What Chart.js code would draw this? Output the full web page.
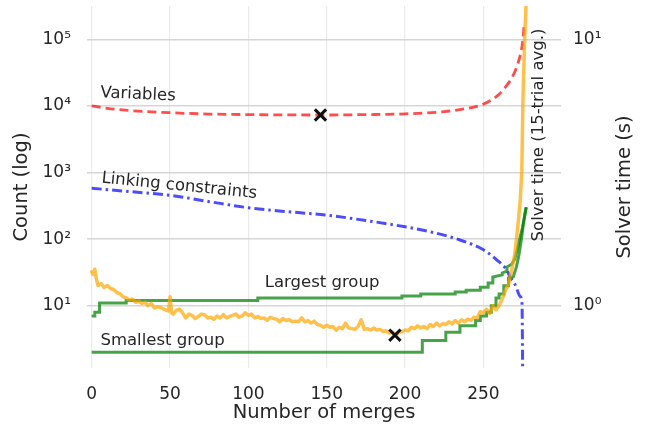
<!DOCTYPE html>
<html>
<head>
<meta charset="utf-8">
<script src="https://cdn.jsdelivr.net/npm/chart.js@4.4.0/dist/chart.umd.min.js"></script>
<style>
  body { margin: 0; background: #fff; }
  canvas { display: block; }
</style>
</head>
<body>
<canvas id="myChart" width="652" height="429"></canvas>
<script>
// tick labels
var xTicks = [0, 50, 100, 150, 200, 250];
var countTicks = [10, 100, 1000, 10000, 100000];
var timeTicks = [1, 10];

// Variables (count)
var varX = [0, 10, 25, 50, 75, 100, 146, 175, 200, 225, 240, 248, 255, 260, 265, 268, 271, 273, 274.5, 275.5, 276];
var varY = [10000, 9200, 8500, 7900, 7550, 7400, 7300, 7400, 7600, 8200, 9200, 10200, 12200, 15000, 20500, 26000, 37000, 52000, 75000, 120000, 176000];

// Linking constraints (count)
var linkX = [0, 25, 50, 75, 100, 125, 149, 175, 200, 216, 235, 250, 258.6, 265, 267, 270.3, 273.5, 274.6, 275.2];
var linkY = [580, 515, 455, 365, 296, 258, 230, 190, 153, 129, 97, 69, 48.5, 34, 27, 20.5, 13.7, 10.9, 0.3];

// Largest group size (count), steps written out
var largeX = [0, 2, 2, 5, 5, 22, 22, 106, 106, 198, 198, 210, 210, 232, 232, 239, 239, 248, 248, 253, 253, 255.5,
  256, 262, 262, 265, 265, 268, 270, 272, 273.5, 275, 276, 277.3];
var largeY = [7, 7, 8, 8, 11, 11, 12, 12, 13, 13, 14, 14, 15, 15, 16, 16, 17, 17, 19, 19, 22, 22,
  27, 29, 31, 33, 38, 42, 50, 77, 110, 150, 200, 300];

// Smallest group size (count), steps written out
var smallX = [0, 211, 211, 226, 226, 235, 235, 245, 245, 248, 248, 252, 252, 255, 255, 258, 258, 260, 260, 263, 263, 266,
  266, 269, 271, 272.5, 273.5, 274.5, 275.5, 276.5, 277.3];
var smallY = [2, 2, 3, 3, 4, 4, 5, 5, 6, 6, 7, 7, 8, 8, 10, 10, 13, 13, 15, 15, 20, 20,
  26, 27, 38, 55, 77, 110, 175, 240, 300];

// Solver time, 15-trial avg. (seconds)
var solverX = [0, 1, 2, 3, 4, 6, 8, 10, 12, 14,
  16, 18, 20, 22, 24, 26, 28, 30, 32, 34,
  36, 38, 40, 42, 44, 46, 48, 49, 50, 51,
  52, 54, 56, 58, 60, 62, 64, 66, 68, 70,
  72, 74, 76, 78, 80, 82, 84, 86, 88, 90,
  92, 94, 96, 98, 100, 102, 104, 106, 108, 110,
  112, 114, 116, 118, 120, 122, 124, 126, 128, 130,
  132, 134, 136, 138, 140, 142, 144, 146, 148, 150,
  152, 154, 156, 158, 160, 162, 164, 166, 168, 170,
  172, 174, 176, 178, 180, 182, 184, 186, 188, 190,
  192, 194, 196, 198, 200, 202, 204, 206, 208, 210,
  212, 214, 216, 218, 220, 222, 224, 226, 228, 230,
  232, 234, 236, 238, 240, 242, 244, 246, 248, 250,
  252, 254, 256, 258, 260, 262, 264, 266, 267, 268,
  270, 272, 273.5, 274.5, 275.2, 276.3, 277.3];
var solverY = [1.34, 1.31, 1.37, 1.26, 1.19, 1.21, 1.17, 1.19, 1.16, 1.15,
  1.12, 1.11, 1.08, 1.07, 1.05, 1.06, 1.03, 1.04, 1.02, 1.03,
  1.0, 1.02, 0.98, 0.99, 0.985, 0.97, 0.96, 0.955, 1.08, 0.94,
  0.93, 0.96, 0.97, 0.94, 0.9, 0.93, 0.92, 0.895, 0.91, 0.93,
  0.925, 0.9, 0.905, 0.89, 0.915, 0.9, 0.925, 0.9, 0.91, 0.92,
  0.93, 0.905, 0.915, 0.94, 0.92, 0.93, 0.9, 0.91, 0.895, 0.9,
  0.88, 0.905, 0.895, 0.89, 0.87, 0.895, 0.88, 0.885, 0.87, 0.875,
  0.87, 0.9, 0.87, 0.88, 0.86, 0.875, 0.85, 0.845, 0.83, 0.845,
  0.83, 0.835, 0.81, 0.83, 0.82, 0.86, 0.825, 0.82, 0.815, 0.835,
  0.885, 0.815, 0.82, 0.81, 0.825, 0.81, 0.815, 0.8, 0.805, 0.79,
  0.795, 0.775, 0.795, 0.8, 0.81, 0.805, 0.83, 0.82, 0.84, 0.825,
  0.835, 0.82, 0.85, 0.835, 0.86, 0.84, 0.855, 0.85, 0.87, 0.855,
  0.88, 0.86, 0.885, 0.87, 0.89, 0.88, 0.905, 0.9, 0.95, 0.94,
  0.97, 0.935, 1.0, 0.965, 1.0, 1.06, 1.14, 1.2, 1.28, 1.36,
  1.56, 2.0, 2.5, 3.2, 5.9, 10, 14];

// minima marked with an x
var varMin = {x: 146, y: 7300};
var solverMin = {x: 193.5, y: 0.775};

function pts(xs, ys) {
  return xs.map(function(x, i) { return {x: x, y: ys[i]}; });
}

var sup = {'0': '\u2070', '1': '\u00b9', '2': '\u00b2', '3': '\u00b3', '4': '\u2074', '5': '\u2075'};
function pow10Label(v) {
  var e = Math.round(Math.log10(v));
  return '10' + sup[String(e)];
}

var FONT = "'DejaVu Sans', sans-serif";
var TEXT = '#262626';

// text notes next to the lines
var notes = [
  {text: 'Variables', x: 29.6, y: 14800, axis: 'y', angle: 2.5},
  {text: 'Linking constraints', x: 55.9, y: 627, axis: 'y', angle: 5.7},
  {text: 'Largest group', x: 147, y: 21.9, axis: 'y', angle: 0},
  {text: 'Smallest group', x: 45.2, y: 2.95, axis: 'y', angle: 0},
  {text: 'Solver time (15-trial avg.)', x: 285, y: 3656, axis: 'y', angle: -90}
];

var notesPlugin = {
  id: 'notes',
  afterDraw: function(chart) {
    var ctx = chart.ctx;
    var xs = chart.scales.x;
    var area = chart.chartArea;
    ctx.save();
    ctx.fillStyle = TEXT;
    ctx.textAlign = 'center';
    ctx.textBaseline = 'middle';
    ctx.font = '16.5px ' + FONT;
    notes.forEach(function(n) {
      ctx.save();
      ctx.translate(xs.getPixelForValue(n.x), chart.scales[n.axis].getPixelForValue(n.y));
      ctx.rotate(n.angle * Math.PI / 180);
      ctx.fillText(n.text, 0, 0);
      ctx.restore();
    });

    // axis titles
    var midY = (area.top + area.bottom) / 2;
    ctx.font = '19.5px ' + FONT;
    ctx.fillText('Number of merges', (area.left + area.right) / 2, 413);
    ctx.save();
    ctx.translate(22, midY);
    ctx.rotate(-Math.PI / 2);
    ctx.fillText('Count (log)', 0, 0);
    ctx.restore();
    ctx.save();
    ctx.translate(625, midY);
    ctx.rotate(-Math.PI / 2);
    ctx.fillText('Solver time (s)', 0, 0);
    ctx.restore();
    ctx.restore();
  }
};

function noPad(s) {
  s.paddingTop = 0; s.paddingBottom = 0; s.paddingLeft = 0; s.paddingRight = 0;
}

var ctx = document.getElementById('myChart').getContext('2d');
var chart = new Chart(ctx, {
  type: 'line',
  data: {
    datasets: [
      {
        data: [varMin], yAxisID: 'y', showLine: false,
        pointStyle: 'crossRot', pointRadius: 8, borderWidth: 3,
        borderColor: '#111', backgroundColor: '#111'
      },
      {
        data: [solverMin], yAxisID: 'y2', showLine: false,
        pointStyle: 'crossRot', pointRadius: 8, borderWidth: 3,
        borderColor: '#111', backgroundColor: '#111'
      },
      {
        data: pts(solverX, solverY), yAxisID: 'y2',
        borderColor: 'rgba(255,165,0,0.7)', borderWidth: 3.5, pointRadius: 0,
        borderJoinStyle: 'round', borderCapStyle: 'round'
      },
      {
        data: pts(largeX, largeY), yAxisID: 'y',
        borderColor: 'rgba(0,128,0,0.72)', borderWidth: 3, pointRadius: 0
      },
      {
        data: pts(smallX, smallY), yAxisID: 'y',
        borderColor: 'rgba(0,128,0,0.72)', borderWidth: 3, pointRadius: 0
      },
      {
        data: pts(varX, varY), yAxisID: 'y', cubicInterpolationMode: 'monotone',
        borderColor: 'rgba(255,0,0,0.7)', borderWidth: 2.8, borderDash: [9, 5], pointRadius: 0
      },
      {
        data: pts(linkX, linkY), yAxisID: 'y', cubicInterpolationMode: 'monotone',
        borderColor: 'rgba(0,0,255,0.7)', borderWidth: 3, borderDash: [10, 4, 2.5, 4], pointRadius: 0
      }
    ]
  },
  options: {
    responsive: false,
    animation: false,
    devicePixelRatio: 1,
    layout: { autoPadding: false, padding: { top: 6, left: 0, right: 0, bottom: 0 } },
    plugins: { legend: { display: false }, tooltip: { enabled: false } },
    scales: {
      x: {
        type: 'linear', min: -3, max: 299.5,
        afterBuildTicks: function(s) { s.ticks = xTicks.map(function(v) { return {value: v}; }); },
        afterFit: function(s) { s.height = 61; noPad(s); },
        grid: { color: '#ebebeb', lineWidth: 1.2, drawTicks: false },
        border: { display: false },
        ticks: { color: TEXT, font: { family: FONT, size: 17 }, padding: 16, maxRotation: 0 }
      },
      y: {
        type: 'logarithmic', position: 'left', min: 1.16, max: 316228,
        afterBuildTicks: function(s) { s.ticks = countTicks.map(function(v) { return {value: v}; }); },
        afterFit: function(s) { s.width = 87; noPad(s); },
        grid: { color: '#d6d6d6', lineWidth: 1.4, drawTicks: false },
        border: { display: false },
        ticks: { color: TEXT, font: { family: FONT, size: 17 }, padding: 16, callback: pow10Label }
      },
      y2: {
        type: 'logarithmic', position: 'right', min: 0.5836, max: 13.34,
        afterBuildTicks: function(s) { s.ticks = timeTicks.map(function(v) { return {value: v}; }); },
        afterFit: function(s) { s.width = 91; noPad(s); },
        grid: { display: false, drawTicks: false },
        border: { display: false },
        ticks: { color: TEXT, font: { family: FONT, size: 17 }, padding: 12, callback: pow10Label }
      }
    }
  },
  plugins: [notesPlugin]
});
</script>
</body>
</html>
